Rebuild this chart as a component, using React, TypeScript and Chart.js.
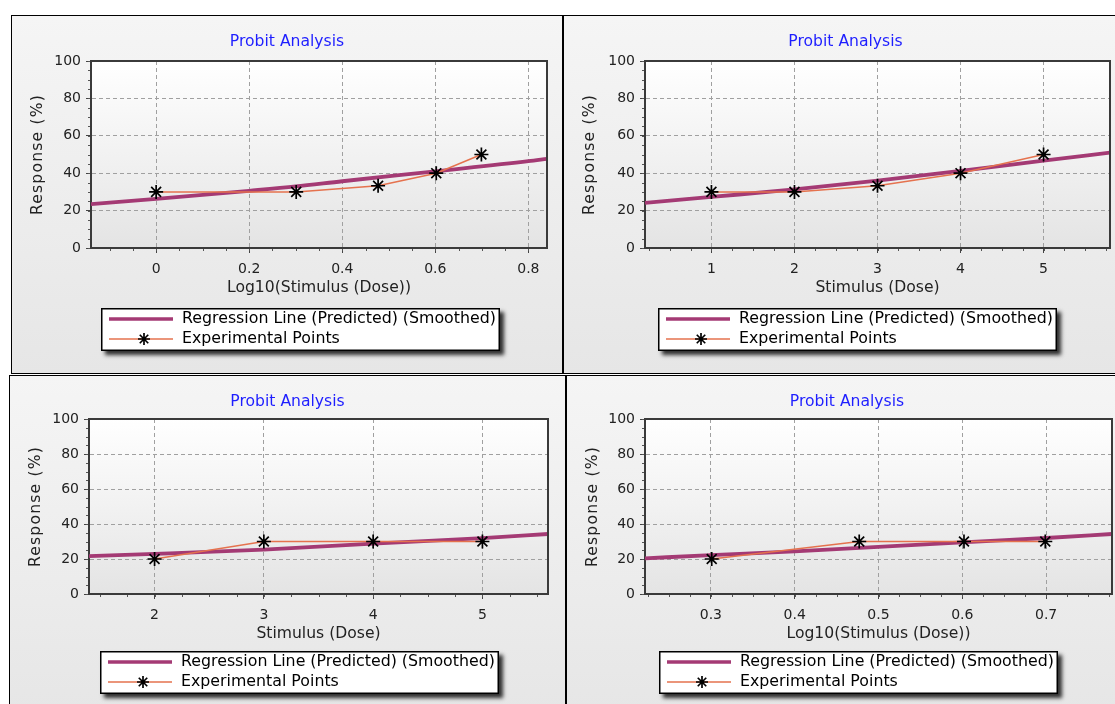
import React, { useEffect, useRef } from 'react';
import { Chart, registerables } from 'chart.js';

Chart.register(...registerables);

// ---------- data ----------
const doseA = [1, 2, 3, 4, 5];
const logDoseA = [0, 0.301, 0.477, 0.602, 0.699];
const responseA = [30, 30, 33.3, 40, 50];

const doseB = [2, 3, 4, 5];
const logDoseB = [0.301, 0.477, 0.602, 0.699];
const responseB = [20, 30, 30, 30];

// regression (predicted, smoothed) curves
const fitLogA_x = [-0.14, 0, 0.2, 0.3, 0.4, 0.6, 0.8, 0.84];
const fitLogA_y = [23.5, 26.3, 30.6, 32.9, 35.7, 41.0, 46.4, 47.7];
const fitDoseA_x = [0.2, 1, 2, 3, 4, 5, 5.8];
const fitDoseA_y = [24.1, 27.3, 31.3, 36.0, 41.2, 46.7, 51.0];
const fitDoseB_x = [1.4, 2, 3, 4, 5, 5.6];
const fitDoseB_y = [21.6, 22.9, 25.4, 28.8, 31.9, 34.3];
const fitLogB_x = [0.2214, 0.3, 0.4, 0.5, 0.6, 0.7, 0.7786];
const fitLogB_y = [20.4, 22.2, 24.4, 26.9, 29.5, 32.0, 34.3];

// ticks
const yTicks = [0, 20, 40, 60, 80, 100];
const yTickLabels = ['0', '20', '40', '60', '80', '100'];
const xTicksLogA = [0, 0.2, 0.4, 0.6, 0.8];
const xTickLabelsLogA = ['0', '0.2', '0.4', '0.6', '0.8'];
const xTicksDoseA = [1, 2, 3, 4, 5];
const xTickLabelsDoseA = ['1', '2', '3', '4', '5'];
const xTicksDoseB = [2, 3, 4, 5];
const xTickLabelsDoseB = ['2', '3', '4', '5'];
const xTicksLogB = [0.3, 0.4, 0.5, 0.6, 0.7];
const xTickLabelsLogB = ['0.3', '0.4', '0.5', '0.6', '0.7'];

const TITLE = 'Probit Analysis';
const Y_TITLE = 'Response (%)';
const X_TITLE_LOG = 'Log10(Stimulus (Dose))';
const X_TITLE_DOSE = 'Stimulus (Dose)';
const LEGEND_LABELS = ['Regression Line (Predicted) (Smoothed)', 'Experimental Points'];

// ---------- styles ----------
const FONT = '"DejaVu Sans", Verdana, sans-serif';
const REG_COLOR = '#a43a74';
const EXP_COLOR = '#e5724e';
const GRID_COLOR = '#a0a0a0';
const AXIS_COLOR = '#3a3a3a';
const TEXT_COLOR = '#222222';
const TITLE_COLOR = '#1e1eff';

type PanelCfg = {
  left: number; top: number; width: number; height: number;
  area: [number, number, number, number];
  xMin: number; xMax: number;
  xTicks: number[]; xTickLabels: string[]; xMinor: number;
  xTitle: string;
  expX: number[]; expY: number[];
  fitX: number[]; fitY: number[];
  legendX: number; legendY: number;
};

const panels: PanelCfg[] = [
  {
    left: 11, top: 15, width: 552, height: 359, area: [79, 45, 535, 232],
    xMin: -0.14, xMax: 0.84, xTicks: xTicksLogA, xTickLabels: xTickLabelsLogA, xMinor: 0.05,
    xTitle: X_TITLE_LOG, expX: logDoseA, expY: responseA, fitX: fitLogA_x, fitY: fitLogA_y,
    legendX: 89, legendY: 292,
  },
  {
    left: 563, top: 15, width: 565, height: 359, area: [81, 45, 546, 232],
    xMin: 0.2, xMax: 5.8, xTicks: xTicksDoseA, xTickLabels: xTickLabelsDoseA, xMinor: 0.25,
    xTitle: X_TITLE_DOSE, expX: doseA, expY: responseA, fitX: fitDoseA_x, fitY: fitDoseA_y,
    legendX: 94, legendY: 292,
  },
  {
    left: 9, top: 375, width: 557, height: 340, area: [79, 43, 538, 218],
    xMin: 1.4, xMax: 5.6, xTicks: xTicksDoseB, xTickLabels: xTickLabelsDoseB, xMinor: 0.25,
    xTitle: X_TITLE_DOSE, expX: doseB, expY: responseB, fitX: fitDoseB_x, fitY: fitDoseB_y,
    legendX: 90, legendY: 275,
  },
  {
    left: 566, top: 375, width: 562, height: 340, area: [78, 43, 545, 218],
    xMin: 0.2214, xMax: 0.7786, xTicks: xTicksLogB, xTickLabels: xTickLabelsLogB, xMinor: 0.025,
    xTitle: X_TITLE_LOG, expX: logDoseB, expY: responseB, fitX: fitLogB_x, fitY: fitLogB_y,
    legendX: 92, legendY: 275,
  },
];

function drawStar(ctx: CanvasRenderingContext2D, x: number, y: number, r: number) {
  ctx.beginPath();
  for (let k = 0; k < 4; k++) {
    const ang = (k * Math.PI) / 4;
    const dx = Math.cos(ang) * r, dy = Math.sin(ang) * r;
    ctx.moveTo(x - dx, y - dy);
    ctx.lineTo(x + dx, y + dy);
  }
  ctx.stroke();
}

function makeDecor(cfg: PanelCfg) {
  return {
    id: 'decor',
    beforeDraw(chart: any) {
      const { ctx, chartArea: a } = chart;
      const g = ctx.createLinearGradient(0, a.top, 0, a.bottom);
      g.addColorStop(0, '#ffffff');
      g.addColorStop(1, '#e4e4e4');
      ctx.save();
      ctx.fillStyle = g;
      ctx.fillRect(a.left, a.top, a.right - a.left, a.bottom - a.top);
      ctx.restore();
    },
    afterDraw(chart: any) {
      const { ctx, chartArea: a, width } = chart;
      const xs = chart.scales.x, ys = chart.scales.y;
      ctx.save();
      // top / right frame
      ctx.strokeStyle = AXIS_COLOR;
      ctx.lineWidth = 2;
      ctx.beginPath();
      ctx.moveTo(a.left, a.top);
      ctx.lineTo(a.right, a.top);
      ctx.lineTo(a.right, a.bottom);
      ctx.stroke();
      // minor ticks
      ctx.lineWidth = 1;
      ctx.strokeStyle = '#555';
      ctx.beginPath();
      const s0 = Math.ceil(xs.min / cfg.xMinor - 1e-9), s1 = Math.floor(xs.max / cfg.xMinor + 1e-9);
      for (let k = s0; k <= s1; k++) {
        const p = Math.round(xs.getPixelForValue(k * cfg.xMinor)) + 0.5;
        ctx.moveTo(p, a.bottom + 1);
        ctx.lineTo(p, a.bottom + 3);
      }
      for (let k = 0; k <= 20; k++) {
        const p = Math.round(ys.getPixelForValue(k * 5)) + 0.5;
        ctx.moveTo(a.left - 3, p);
        ctx.lineTo(a.left - 1, p);
      }
      ctx.stroke();
      // chart title
      ctx.font = `15.6px ${FONT}`;
      ctx.textAlign = 'center';
      ctx.textBaseline = 'middle';
      ctx.fillStyle = TITLE_COLOR;
      ctx.fillText(TITLE, width / 2, 26);
      // x title
      ctx.fillStyle = TEXT_COLOR;
      ctx.fillText(cfg.xTitle, (a.left + a.right) / 2, a.bottom + 40);
      // y title
      ctx.save();
      ctx.translate(26, (a.top + a.bottom) / 2);
      ctx.rotate(-Math.PI / 2);
      (ctx as any).letterSpacing = '1.2px';
      ctx.fillText(Y_TITLE, 0, 0);
      ctx.restore();
      // legend
      const L = cfg.legendX, T = cfg.legendY, H = 43;
      ctx.font = `15.8px ${FONT}`;
      const tw = Math.max(ctx.measureText(LEGEND_LABELS[0]).width, ctx.measureText(LEGEND_LABELS[1]).width);
      const W = Math.round(81 + tw + 4);
      ctx.save();
      ctx.shadowColor = 'rgba(0,0,0,0.8)';
      ctx.shadowBlur = 4;
      ctx.shadowOffsetX = 4;
      ctx.shadowOffsetY = 4;
      ctx.fillStyle = '#ffffff';
      ctx.fillRect(L, T, W, H);
      ctx.restore();
      ctx.strokeStyle = '#000';
      ctx.lineWidth = 1.5;
      ctx.strokeRect(L + 0.75, T + 0.75, W - 1.5, H - 1.5);
      const r1 = T + 11, r2 = T + 31;
      ctx.strokeStyle = REG_COLOR;
      ctx.lineWidth = 3.5;
      ctx.beginPath();
      ctx.moveTo(L + 8, r1);
      ctx.lineTo(L + 72, r1);
      ctx.stroke();
      ctx.strokeStyle = EXP_COLOR;
      ctx.lineWidth = 1.5;
      ctx.beginPath();
      ctx.moveTo(L + 8, r2);
      ctx.lineTo(L + 72, r2);
      ctx.stroke();
      ctx.strokeStyle = '#000';
      ctx.lineWidth = 1.7;
      drawStar(ctx, L + 43, r2, 6);
      ctx.fillStyle = '#000';
      ctx.textAlign = 'left';
      ctx.fillText(LEGEND_LABELS[0], L + 81, r1);
      ctx.fillText(LEGEND_LABELS[1], L + 81, r2);
      ctx.restore();
    },
  };
}

function Panel({ cfg }: { cfg: PanelCfg }) {
  const ref = useRef<HTMLCanvasElement>(null);
  const cw = cfg.width - 2;
  const ch = cfg.height - 2;
  useEffect(() => {
    const canvas = ref.current!;
    const [aL, aT, aR, aB] = cfg.area;
    const X_H = 60;
    const tickFont = { family: FONT, size: 14 };
    const chart = new Chart(canvas, {
      type: 'line',
      data: {
        datasets: [
          {
            label: LEGEND_LABELS[1],
            data: cfg.expX.map((x, i) => ({ x, y: cfg.expY[i] })),
            borderColor: EXP_COLOR,
            borderWidth: 1.5,
            pointStyle: 'star',
            pointRadius: 7,
            pointBorderColor: '#000',
            pointBackgroundColor: '#000',
            pointBorderWidth: 1.7,
            tension: 0,
            fill: false,
          },
          {
            label: LEGEND_LABELS[0],
            data: cfg.fitX.map((x, i) => ({ x, y: cfg.fitY[i] })),
            borderColor: REG_COLOR,
            borderWidth: 3.8,
            pointRadius: 0,
            cubicInterpolationMode: 'monotone',
            fill: false,
          },
        ],
      },
      options: {
        responsive: false,
        animation: false,
        events: [],
        layout: { padding: { left: 0, top: aT, right: cw - aR, bottom: ch - aB - X_H } },
        plugins: { legend: { display: false }, title: { display: false }, tooltip: { enabled: false } },
        scales: {
          x: {
            type: 'linear',
            min: cfg.xMin,
            max: cfg.xMax,
            afterFit: (s: any) => { s.height = X_H; },
            afterBuildTicks: (s: any) => { s.ticks = cfg.xTicks.map((v) => ({ value: v })); },
            ticks: {
              callback: (_v: any, i: number) => cfg.xTickLabels[i],
              font: tickFont,
              color: TEXT_COLOR,
              padding: 8,
              maxRotation: 0,
              autoSkip: false,
            },
            grid: { color: GRID_COLOR, lineWidth: 1, tickLength: 5, tickColor: '#444', tickWidth: 1 },
            border: { display: true, color: AXIS_COLOR, width: 2, dash: [4, 3] },
          },
          y: {
            type: 'linear',
            min: 0,
            max: 100,
            afterFit: (s: any) => { s.width = aL; },
            afterBuildTicks: (s: any) => { s.ticks = yTicks.map((v) => ({ value: v })); },
            ticks: {
              callback: (_v: any, i: number) => yTickLabels[i],
              font: tickFont,
              color: TEXT_COLOR,
              padding: 5,
              autoSkip: false,
            },
            grid: { color: GRID_COLOR, lineWidth: 1, tickLength: 5, tickColor: '#444', tickWidth: 1 },
            border: { display: true, color: AXIS_COLOR, width: 2, dash: [4, 3] },
          },
        },
      },
      plugins: [makeDecor(cfg)],
    } as any);
    return () => chart.destroy();
  }, [cfg]);
  return (
    <div
      style={{
        position: 'absolute',
        left: cfg.left,
        top: cfg.top,
        width: cfg.width,
        height: cfg.height,
        boxSizing: 'border-box',
        border: '1px solid #000',
        background: 'linear-gradient(#f5f5f5, #e6e6e6)',
      }}
    >
      <canvas ref={ref} width={cw} height={ch} style={{ display: 'block', width: cw, height: ch }} />
    </div>
  );
}

export default function App() {
  return (
    <div
      style={{
        position: 'fixed',
        left: 0,
        top: 0,
        width: 1115,
        height: 704,
        overflow: 'hidden',
        background: '#ffffff',
      }}
    >
      {panels.map((p, i) => (
        <Panel key={i} cfg={p} />
      ))}
    </div>
  );
}
